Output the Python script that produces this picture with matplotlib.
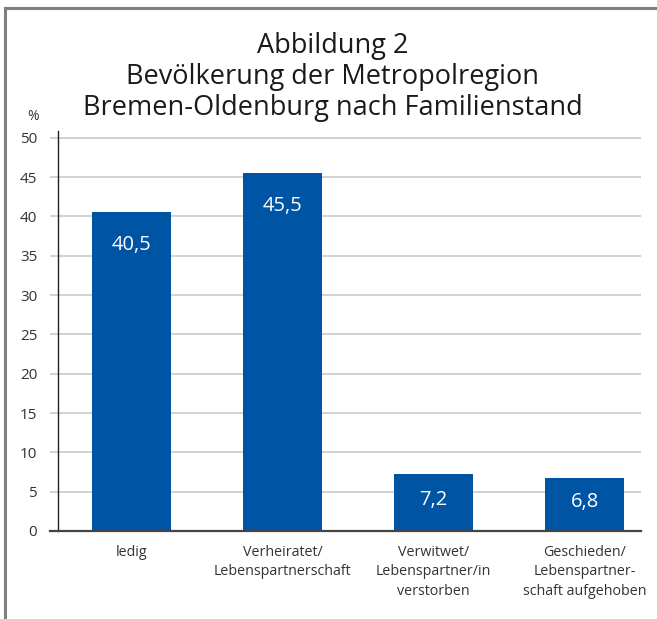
import matplotlib.pyplot as plt
from matplotlib.lines import Line2D
import numpy as np

plt.rcParams['font.family'] = ['Open Sans', 'DejaVu Sans']

categories = ['ledig', 'Verheiratet/\nLebenspartnerschaft',
              'Verwitwet/\nLebenspartner/in\nverstorben',
              'Geschieden/\nLebenspartner-\nschaft aufgehoben']
values = [40.5, 45.5, 7.2, 6.8]
value_labels = ['40,5', '45,5', '7,2', '6,8']
yticks = [0, 5, 10, 15, 20, 25, 30, 35, 40, 45, 50]

W, H = 657, 619
fig = plt.figure(figsize=(W / 100, H / 100), dpi=100)
ax = fig.add_axes([50 / W, 88 / H, 591 / W, 400 / H])

x = np.arange(len(values))
ax.bar(x, values, width=0.52, color='#0054a4', zorder=3)

for xi, v, lab in zip(x, values, value_labels):
    ypos = v - 4.2 if v > 20 else v / 2 + 0.3
    ax.text(xi, ypos, lab, ha='center', va='center', color='white',
            fontsize=14.5, zorder=4)

ax.set_xlim(-0.54, 3.374)
ax.set_ylim(0, 50.85)
ax.set_yticks(yticks)
ax.set_yticklabels([str(t) for t in yticks])
ax.yaxis.grid(True, color='#c6c6c6', lw=1.1, zorder=0)
ax.tick_params(axis='y', length=0, pad=15, labelsize=11, labelcolor='#333333')
ax.set_xticks(x)
ax.set_xticklabels(categories, linespacing=1.4)
ax.tick_params(axis='x', length=0, pad=10, labelsize=10.3, labelcolor='#333333')

for side in ['top', 'right']:
    ax.spines[side].set_visible(False)
ax.spines['left'].set_position(('data', -0.487))
ax.spines['left'].set_bounds(0, 50.8)
ax.spines['left'].set_color('#222222')
ax.spines['left'].set_linewidth(1.0)
ax.spines['bottom'].set_color('#444444')
ax.spines['bottom'].set_linewidth(1.6)
ax.spines['bottom'].set_zorder(5)

fig.text(33 / W, 1 - 117 / H, '%', ha='center', va='center', fontsize=10,
         color='#333333')
fig.text(333 / W, 1 - 77 / H,
         'Abbildung 2\nBevölkerung der Metropolregion\nBremen-Oldenburg nach Familienstand',
         ha='center', va='center', fontsize=19.5, color='#1a1a1a', linespacing=1.13)

# frame on left and top
fig.add_artist(Line2D([5 / W, 5 / W], [0, 1 - 8 / H], color='#7f7f7f', lw=2.2,
                      transform=fig.transFigure))
fig.add_artist(Line2D([5 / W, 1], [1 - 8 / H, 1 - 8 / H], color='#7f7f7f', lw=2.2,
                      transform=fig.transFigure))

fig.savefig('out.png', dpi=100)
